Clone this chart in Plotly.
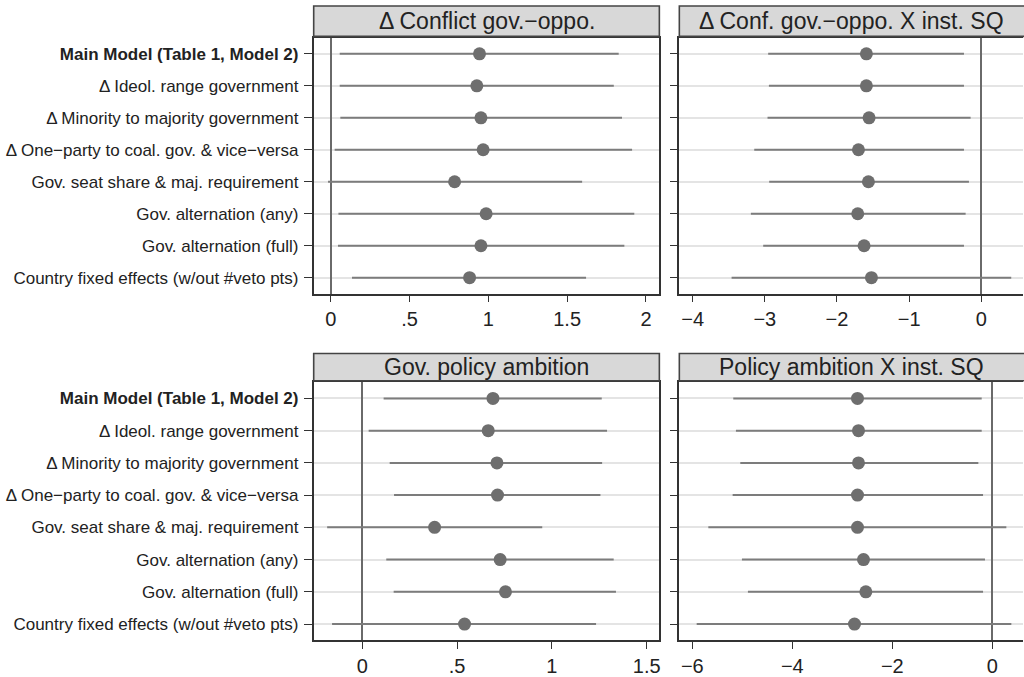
import plotly.graph_objects as go

W, H = 1024, 677

categories = [
    "Main Model (Table 1, Model 2)",
    "\u0394 Ideol. range government",
    "\u0394 Minority to majority government",
    "\u0394 One\u2212party to coal. gov. & vice\u2212versa",
    "Gov. seat share & maj. requirement",
    "Gov. alternation (any)",
    "Gov. alternation (full)",
    "Country fixed effects (w/out #veto pts)",
]
tick_text = ["<b>" + categories[0] + "</b>"] + categories[1:]

panel_titles = [
    "\u0394 Conflict gov.\u2212oppo.",
    "\u0394 Conf. gov.\u2212oppo. X inst. SQ",
    "Gov. policy ambition",
    "Policy ambition X inst. SQ",
]

# panel 1: Delta conflict gov-oppo
p1_est = [0.944, 0.927, 0.953, 0.967, 0.786, 0.986, 0.953, 0.881]
p1_lo = [0.057, 0.057, 0.061, 0.025, -0.017, 0.049, 0.046, 0.135]
p1_hi = [1.827, 1.796, 1.848, 1.912, 1.595, 1.926, 1.863, 1.620]

# panel 2: Delta conflict X inst. SQ
p2_est = [-1.592, -1.592, -1.555, -1.702, -1.564, -1.712, -1.624, -1.522]
p2_lo = [-2.953, -2.943, -2.962, -3.146, -2.939, -3.193, -3.022, -3.460]
p2_hi = [-0.240, -0.240, -0.148, -0.240, -0.171, -0.217, -0.240, 0.415]

# panel 3: Gov. policy ambition
p3_est = [0.689, 0.664, 0.710, 0.713, 0.381, 0.727, 0.755, 0.539]
p3_lo = [0.112, 0.033, 0.144, 0.167, -0.186, 0.126, 0.165, -0.160]
p3_hi = [1.263, 1.291, 1.265, 1.256, 0.949, 1.326, 1.338, 1.233]

# panel 4: Policy ambition X inst. SQ
p4_est = [-2.697, -2.677, -2.677, -2.697, -2.697, -2.577, -2.530, -2.757]
p4_lo = [-5.181, -5.128, -5.041, -5.194, -5.680, -5.008, -4.888, -5.913]
p4_hi = [-0.213, -0.213, -0.280, -0.186, 0.280, -0.147, -0.186, 0.380]

x_tickvals = [[0, 0.5, 1, 1.5, 2], [-4, -3, -2, -1, 0], [0, 0.5, 1, 1.5], [-6, -4, -2, 0]]
x_ticktext = [["0", ".5", "1", "1.5", "2"],
              ["\u22124", "\u22123", "\u22122", "\u22121", "0"],
              ["0", ".5", "1", "1.5"],
              ["\u22126", "\u22124", "\u22122", "0"]]
x_ranges = [[-0.108, 2.085], [-4.184, 0.578], [-0.257, 1.567], [-6.26, 0.613]]

ests = [p1_est, p2_est, p3_est, p4_est]
los = [p1_lo, p2_lo, p3_lo, p4_lo]
his = [p1_hi, p2_hi, p3_hi, p4_hi]

# pixel layout (left, right, top, bottom) of each plot area
boxes = [(314, 660, 38, 295), (680, 1030, 38, 295),
         (314, 660, 384, 643), (680, 1030, 384, 643)]
header_tops = [6, 6, 355, 355]

FONT = "Liberation Sans, Arial, Helvetica, sans-serif"
MARK = "#6e6e6e"
CI = "#7c7c7c"
FRAME = "#333333"

fig = go.Figure()
layout = dict(
    width=W, height=H, margin=dict(l=0, r=0, t=0, b=0),
    paper_bgcolor="white", plot_bgcolor="white", showlegend=False,
    font=dict(family=FONT, color="#222222"),
)
shapes = []
annotations = []

for i in range(4):
    n = i + 1
    xa = "x" if n == 1 else f"x{n}"
    ya = "y" if n == 1 else f"y{n}"
    est, lo, hi = ests[i], los[i], his[i]
    fig.add_trace(go.Scatter(
        x=est, y=categories, mode="markers",
        xaxis=xa, yaxis=ya,
        marker=dict(size=13, color=MARK),
        error_x=dict(type="data", symmetric=False,
                     array=[h - e for h, e in zip(hi, est)],
                     arrayminus=[e - l for e, l in zip(est, lo)],
                     width=0, thickness=2, color=CI),
        hoverinfo="skip",
    ))
    l, r, t, b = boxes[i]
    r_clip = min(r, W)
    xdom = [l / W, r_clip / W]
    ydom = [1 - b / H, 1 - t / H]
    is_left = i in (0, 2)
    layout["xaxis" if n == 1 else f"xaxis{n}"] = dict(
        domain=xdom, anchor=ya, range=x_ranges[i],
        tickmode="array", tickvals=x_tickvals[i], ticktext=x_ticktext[i],
        ticks="outside", ticklen=7, tickwidth=1.2, tickcolor=FRAME,
        tickfont=dict(size=20, color="#222222", family=FONT),
        showgrid=False, zeroline=True, zerolinecolor="#6a6a6a", zerolinewidth=1.6,
        showline=True, linecolor=FRAME, linewidth=1.6, mirror=True,
        fixedrange=True,
    )
    layout["yaxis" if n == 1 else f"yaxis{n}"] = dict(
        domain=ydom, anchor=xa, type="category",
        categoryorder="array", categoryarray=categories,
        range=[len(categories) - 0.5, -0.5],
        tickmode="array", tickvals=categories,
        ticktext=tick_text if is_left else [""] * len(categories),
        ticks="outside", ticklen=8, tickwidth=1.2, tickcolor=FRAME,
        tickfont=dict(size=17, color="#222222", family=FONT),
        ticklabelstandoff=2,
        showgrid=True, gridcolor="#e4e4e4", gridwidth=1.5,
        zeroline=False,
        showline=True, linecolor=FRAME, linewidth=1.6, mirror=is_left,
        fixedrange=True,
    )
    # header strip
    ht = header_tops[i]
    hb = t - 1.5
    shapes.append(dict(type="rect", xref="paper", yref="paper",
                       x0=l / W, x1=r / W, y0=1 - hb / H, y1=1 - ht / H,
                       fillcolor="#d8d8d8", line=dict(color="#444444", width=1.6),
                       layer="above"))
    annotations.append(dict(text=panel_titles[i], xref="paper", yref="paper",
                            x=(l + r_clip) / 2 / W if is_left else (l + 1024) / 2 / W,
                            y=1 - (ht + hb) / 2 / H,
                            xanchor="center", yanchor="middle", showarrow=False,
                            font=dict(size=23, color="#222222", family=FONT)))

layout["shapes"] = shapes
layout["annotations"] = annotations
fig.update_layout(**layout)
fig.write_html("out.html")
